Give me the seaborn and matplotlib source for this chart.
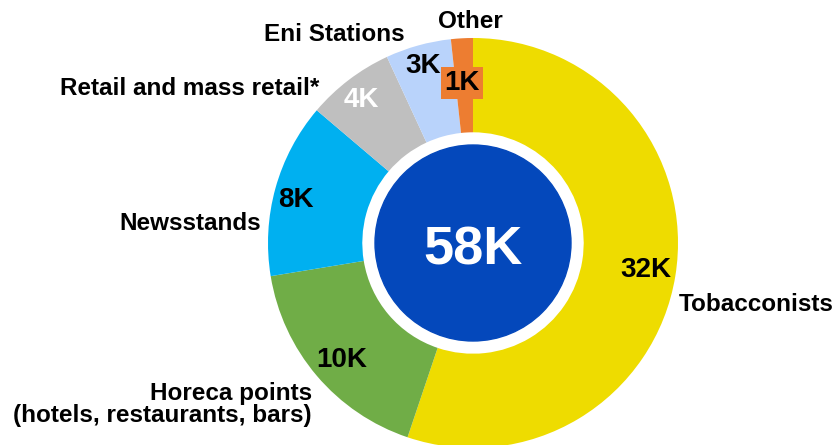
import matplotlib
matplotlib.use("Agg")
import matplotlib.pyplot as plt
import seaborn as sns

categories = ["Tobacconists", "Horeca points\n(hotels, restaurants, bars)", "Newsstands",
              "Retail and mass retail*", "Eni Stations", "Other"]
values = [32, 10, 8, 4, 3, 1]
value_labels = ["32K", "10K", "8K", "4K", "3K", "1K"]
total_label = "58K"
colors = ["#EEDC00", "#70AD47", "#00B0F0", "#BFBFBF", "#B9D3FB", "#ED7D31"]

sns.set_theme(style="white")
plt.rcParams["font.family"] = ["Liberation Sans", "DejaVu Sans"]

fig = plt.figure(figsize=(8.33, 4.45), dpi=100)
ax = fig.add_axes([0, 0, 1, 1])

inner = 0.54
wedges, _ = ax.pie(values, colors=colors, startangle=90, counterclock=False,
                   radius=1.0, wedgeprops=dict(width=1.0 - inner, edgecolor="none"))

R_PX = 205.0
cx, cy = 473.0, 243.0
ax.set_xlim(-cx / R_PX, (833 - cx) / R_PX)
ax.set_ylim(-(445 - cy) / R_PX, cy / R_PX)
ax.set_aspect("equal")
ax.axis("off")

# center disk
ax.add_patch(plt.Circle((0, 0), 0.478, color="#0448BB", zorder=3))
ax.text(0, -0.105, total_label, ha="center", va="baseline", color="white",
        fontsize=39, fontweight="bold", zorder=4)

# value label positions (layout, baseline)
val_pos = [(0.841, -0.166), (-0.639, -0.605), (-0.863, 0.176),
           (-0.546, 0.663), (-0.244, 0.829), (-0.054, 0.746)]
val_colors = ["black", "black", "black", "white", "black", "black"]
for i, (lab, (x, y)) in enumerate(zip(value_labels, val_pos)):
    kw = {}
    if i == 5:
        kw["bbox"] = dict(boxstyle="square,pad=0.12", fc=colors[5], ec="none")
    ax.text(x, y, lab, ha="center", va="baseline", fontsize=20, fontweight="bold",
            color=val_colors[i], zorder=5, **kw)

# category label positions (layout)
cat_pos = [(1.005, -0.332, "left", "baseline"), (-0.785, -0.788, "right", "center"),
           (-1.034, 0.063, "right", "baseline"), (-0.751, 0.722, "right", "baseline"),
           (-0.678, 0.985, "center", "baseline"), (-0.015, 1.049, "center", "baseline")]
for lab, (x, y, ha, va) in zip(categories, cat_pos):
    ax.text(x, y, lab, ha=ha, va=va, fontsize=17.5, fontweight="bold",
            color="black", multialignment="right", linespacing=0.95)

fig.savefig("out.png", dpi=100, facecolor="white")
